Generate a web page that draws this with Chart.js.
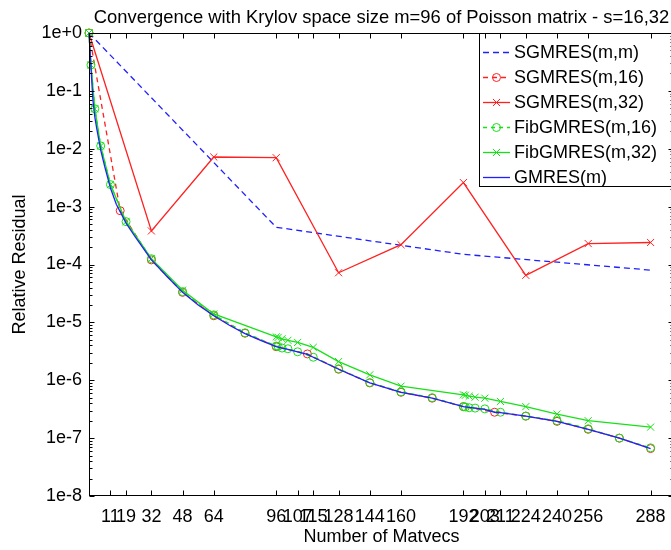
<!DOCTYPE html>
<html><head><meta charset="utf-8">
<script src="https://cdn.jsdelivr.net/npm/chart.js@4"></script>
<style>html,body{margin:0;padding:0;background:#fff;overflow:hidden;width:671px;height:550px}canvas{display:block}</style>
</head><body>
<canvas id="c" width="680" height="550"></canvas>
<script>
const titleText = "Convergence with Krylov space size m=96 of Poisson matrix - s=16,32";
const xAxisTitle = "Number of Matvecs";
const yAxisTitle = "Relative Residual";
const xTickValues = [11, 19, 32, 48, 64, 96, 107, 115, 128, 144, 160, 192, 203, 211, 224, 240, 256, 288];
const yTickValues = [1, 1e-1, 1e-2, 1e-3, 1e-4, 1e-5, 1e-6, 1e-7, 1e-8];
const legendLabels = ["SGMRES(m,m)", "SGMRES(m,16)", "SGMRES(m,32)", "FibGMRES(m,16)", "FibGMRES(m,32)", "GMRES(m)"];

const sgmresMMX = [0, 96, 192, 288];
const sgmresMMY = [1, 4.4e-4, 1.5e-4, 8.0e-5];

const sgmres16X = [0, 16, 32, 48, 64, 80, 96, 112, 128, 144, 160, 176, 192, 208, 224, 240, 256, 272, 288];
const sgmres16Y = [1, 8.5e-4, 1.2e-4, 3.3e-5, 1.3e-5, 6.5e-6, 3.8e-6, 2.85e-6, 1.55e-6, 9.0e-7, 6.2e-7, 4.9e-7, 3.5e-7, 2.8e-7, 2.4e-7, 1.95e-7, 1.42e-7, 1.0e-7, 6.6e-8];

const sgmres32X = [0, 32, 64, 96, 128, 160, 192, 224, 256, 288];
const sgmres32Y = [1, 3.8e-4, 7.2e-3, 7.0e-3, 7.2e-5, 2.2e-4, 2.6e-3, 6.5e-5, 2.3e-4, 2.4e-4];

const fib16X = [0, 1, 3, 6, 11, 19, 32, 48, 64, 80, 96, 97, 99, 102, 107, 115, 128, 144, 160, 176, 192, 193, 195, 198, 203, 211, 224, 240, 256, 272, 288];
const fib16Y = [1, 0.28, 0.049, 0.0112, 0.0024, 5.5e-4, 1.26e-4, 3.4e-5, 1.35e-5, 6.6e-6, 3.9e-6, 3.85e-6, 3.6e-6, 3.5e-6, 3.1e-6, 2.5e-6, 1.58e-6, 9.1e-7, 6.3e-7, 5.0e-7, 3.5e-7, 3.45e-7, 3.35e-7, 3.3e-7, 3.2e-7, 2.8e-7, 2.4e-7, 2.0e-7, 1.45e-7, 1.0e-7, 6.8e-8];

const fib32X = [0, 1, 3, 6, 11, 19, 32, 48, 64, 96, 97, 99, 102, 107, 115, 128, 144, 160, 192, 193, 195, 198, 203, 211, 224, 240, 256, 288];
const fib32Y = [1, 0.28, 0.049, 0.0112, 0.0024, 5.5e-4, 1.26e-4, 3.6e-5, 1.4e-5, 5.6e-6, 5.5e-6, 5.2e-6, 4.9e-6, 4.5e-6, 3.7e-6, 2.1e-6, 1.24e-6, 7.9e-7, 5.6e-7, 5.5e-7, 5.3e-7, 5.1e-7, 4.9e-7, 4.3e-7, 3.5e-7, 2.6e-7, 2.0e-7, 1.55e-7];

const gmresX = [0, 1, 2, 3, 4, 6, 8, 11, 14, 19, 24, 32, 40, 48, 56, 64, 72, 80, 88, 96, 99, 102, 107, 112, 115, 128, 144, 160, 176, 192, 198, 203, 208, 211, 224, 240, 256, 272, 288];
const gmresY = [1, 0.26, 0.07, 0.035, 0.022, 0.0095, 0.005, 0.0021, 0.0011, 5.2e-4, 2.9e-4, 1.2e-4, 6.2e-5, 3.3e-5, 2.0e-5, 1.3e-5, 8.9e-6, 6.4e-6, 4.9e-6, 3.8e-6, 3.6e-6, 3.4e-6, 3.1e-6, 2.8e-6, 2.5e-6, 1.55e-6, 9.0e-7, 6.2e-7, 4.9e-7, 3.5e-7, 3.3e-7, 3.15e-7, 2.8e-7, 2.75e-7, 2.4e-7, 1.95e-7, 1.42e-7, 1.0e-7, 6.6e-8];

const BLUE = '#2020ff', RED = '#ff2020', GREEN = '#18e018';
const FONT = '"Liberation Sans", Arial, sans-serif';

function pts(xs, ys) { return xs.map((v, i) => ({x: v, y: ys[i]})); }

const styles = [
  {color: BLUE, dash: [6, 4], marker: null},
  {color: RED, dash: [5, 4], marker: 'circle'},
  {color: RED, dash: [], marker: 'crossRot'},
  {color: GREEN, dash: [4, 4], marker: 'circle'},
  {color: GREEN, dash: [], marker: 'crossRot'},
  {color: BLUE, dash: [], marker: null}
];
const series = [
  [sgmresMMX, sgmresMMY], [sgmres16X, sgmres16Y], [sgmres32X, sgmres32Y],
  [fib16X, fib16Y], [fib32X, fib32Y], [gmresX, gmresY]
];

const datasets = series.map((s, i) => {
  const st = styles[i];
  return {
    label: legendLabels[i],
    data: pts(s[0], s[1]),
    borderColor: st.color,
    borderWidth: 1.3,
    borderDash: st.dash,
    tension: 0,
    fill: false,
    clip: false,
    pointStyle: st.marker || 'circle',
    pointRadius: st.marker ? (st.marker === 'circle' ? 4 : 5) : 0,
    pointBorderColor: st.color,
    pointBackgroundColor: 'rgba(0,0,0,0)',
    pointBorderWidth: 1,
    order: 5 - i
  };
});

function drawMarker(ctx, type, cx, cy, color) {
  ctx.save();
  ctx.setLineDash([]);
  ctx.strokeStyle = color; ctx.lineWidth = 1;
  ctx.beginPath();
  if (type === 'circle') { ctx.arc(cx, cy, 4, 0, Math.PI * 2); }
  else if (type === 'crossRot') { const r = 5 * Math.SQRT1_2; ctx.moveTo(cx - r, cy - r); ctx.lineTo(cx + r, cy + r); ctx.moveTo(cx + r, cy - r); ctx.lineTo(cx - r, cy + r); }
  ctx.stroke();
  ctx.restore();
}

const decor = {
  id: 'decor',
  afterDraw(chart) {
    const {ctx, chartArea: a} = chart;
    const x = chart.scales.x, y = chart.scales.y;
    ctx.save();
    ctx.setLineDash([]);
    ctx.strokeStyle = '#000'; ctx.lineWidth = 1;
    const L = Math.round(a.left) + 0.5, R = Math.round(a.right) - 0.5, T = Math.round(a.top) + 0.5, B = Math.round(a.bottom) - 0.5;
    // legend box
    const lx = 479.5, ly = T, lw = 200, lh = 153;
    ctx.fillStyle = '#fff';
    ctx.fillRect(lx, ly, lw, lh);
    ctx.strokeRect(lx, ly, lw, lh);
    // axes box
    ctx.strokeRect(L, T, R - L, B - T);
    ctx.beginPath();
    xTickValues.forEach(v => {
      const px = Math.round(x.getPixelForValue(v)) + 0.5;
      ctx.moveTo(px, B); ctx.lineTo(px, B - 5);
      ctx.moveTo(px, T); ctx.lineTo(px, T + 5);
    });
    yTickValues.forEach(v => {
      const py = Math.round(y.getPixelForValue(v)) + 0.5;
      ctx.moveTo(L, py); ctx.lineTo(L + 5, py);
      ctx.moveTo(R, py); ctx.lineTo(R - 5, py);
      if (v < 1) {
        for (let m = 2; m <= 9; m++) {
          const pm = Math.round(y.getPixelForValue(v * m)) + 0.5;
          ctx.moveTo(L, pm); ctx.lineTo(L + 3, pm);
          ctx.moveTo(R, pm); ctx.lineTo(R - 3, pm);
        }
      }
    });
    ctx.stroke();
    // legend entries
    ctx.font = '18px ' + FONT;
    ctx.textBaseline = 'middle';
    ctx.textAlign = 'left';
    legendLabels.forEach((lab, i) => {
      const st = styles[i];
      const cy = 52 + i * 25;
      ctx.save();
      ctx.strokeStyle = st.color; ctx.lineWidth = 1.3;
      ctx.setLineDash(st.dash);
      ctx.beginPath(); ctx.moveTo(483, cy + 0.5); ctx.lineTo(510, cy + 0.5); ctx.stroke();
      ctx.restore();
      if (st.marker) drawMarker(ctx, st.marker, 496.5, cy + 0.5, st.color);
      ctx.fillStyle = '#000';
      ctx.fillText(lab, 514, cy + 1);
    });
    // titles
    const cx = (a.left + a.right) / 2;
    ctx.textAlign = 'center';
    ctx.fillStyle = '#000';
    ctx.font = '18.4px ' + FONT;
    ctx.fillText(titleText, cx, 18);
    ctx.font = '18px ' + FONT;
    ctx.fillText(xAxisTitle, cx, 537);
    ctx.save();
    ctx.translate(20, (a.top + a.bottom) / 2);
    ctx.rotate(-Math.PI / 2);
    ctx.fillText(yAxisTitle, 0, 0);
    ctx.restore();
    ctx.restore();
  }
};

Chart.defaults.font.family = FONT;
Chart.defaults.font.size = 18;
Chart.defaults.color = '#000';

new Chart(document.getElementById('c'), {
  type: 'line',
  data: {datasets},
  options: {
    responsive: false,
    animation: false,
    devicePixelRatio: 1,
    layout: {padding: {left: 0, right: 5, top: 33, bottom: 0}},
    plugins: {legend: {display: false}, title: {display: false}, tooltip: {enabled: false}},
    scales: {
      x: {
        type: 'linear', min: 0, max: 300,
        grid: {display: false, drawTicks: false},
        border: {display: false},
        afterBuildTicks: s => { s.ticks = xTickValues.map(v => ({value: v})); },
        afterFit: s => { s.height = 54; },
        ticks: {autoSkip: false, maxRotation: 0, minRotation: 0, padding: 10, callback: v => String(v)}
      },
      y: {
        type: 'logarithmic', min: 1e-8, max: 1,
        grid: {display: false, drawTicks: false},
        border: {display: false},
        afterBuildTicks: s => { s.ticks = yTickValues.map(v => ({value: v, major: true})); },
        afterFit: s => { s.width = 89; },
        ticks: {autoSkip: false, padding: 7, callback: v => { const e = Math.round(Math.log10(v)); return '1e' + (e >= 0 ? '+' : '-') + Math.abs(e); }}
      }
    }
  },
  plugins: [decor]
});
</script>
</body></html>
